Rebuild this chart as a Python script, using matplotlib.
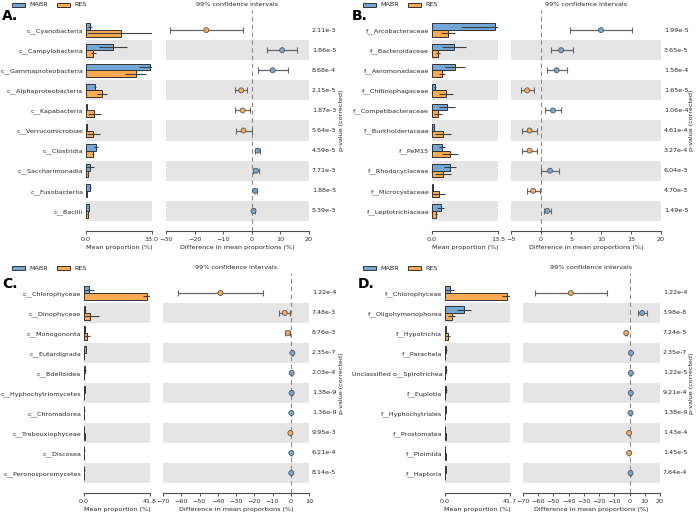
import matplotlib
matplotlib.use("Agg")
import matplotlib.pyplot as plt
from matplotlib.patches import Rectangle
import numpy as np

W, H = 696, 514
BLUE = "#72a7d8"
ORANGE = "#fcaa52"
BAND = "#e5e5e5"
FS = 4.6

# --- A. class level (bacteria) ---
names_a = ["c__Cyanobacteria", "c__Campylobacteria", "c__Gammaproteobacteria",
           "c__Alphaproteobacteria", "c__Kapabacteria", "c__Verrucomicrobiae",
           "c__Clostridia", "c__Saccharimonadia", "c__Fusobacteriia", "c__Bacilli"]
mabr_a = [2.0, 13.7, 32.0, 4.7, 0.3, 0.4, 5.2, 2.0, 2.0, 1.4]
mabr_sd_a = [1.0, 7.0, 5.7, 0.5, 0.1, 0.1, 1.0, 2.0, 0.5, 0.3]
res_a = [17.3, 3.6, 24.9, 8.1, 4.2, 3.7, 3.7, 0.8, 0.5, 0.8]
res_sd_a = [17.0, 1.2, 5.3, 2.4, 3.2, 3.4, 0.5, 0.3, 0.2, 0.3]
diff_a = [-15.9, 10.6, 7.3, -3.7, -3.2, -2.9, 2.0, 1.4, 1.2, 0.6]
lo_a = [-28.6, 5.2, 2.0, -5.7, -5.9, -5.6, 1.2, 0.5, 0.6, 0.2]
hi_a = [-3.1, 15.9, 12.8, -1.6, -0.7, -0.1, 2.9, 2.6, 1.7, 1.0]
p_a = ["2.11e-3", "1.86e-5", "8.68e-4", "2.15e-5", "1.87e-3",
       "5.64e-3", "4.59e-5", "7.71e-3", "1.88e-5", "5.39e-3"]

# --- B. family level (bacteria) ---
names_b = ["f__Arcobacteraceae", "f__Bacteroidaceae", "f__Aeromonadaceae",
           "f__Chitinophagaceae", "f__Competibacteraceae", "f__Burkholderiaceae",
           "f__PeM15", "f__Rhodocyclaceae", "f__Microcystaceae", "f__Leptotrichiaceae"]
mabr_b = [12.8, 4.5, 4.7, 0.55, 3.1, 0.4, 2.1, 3.75, 0.2, 1.8]
mabr_sd_b = [6.8, 2.4, 2.1, 0.2, 1.6, 0.1, 0.6, 1.2, 0.05, 0.75]
res_b = [3.3, 1.2, 2.1, 2.9, 1.2, 2.2, 3.7, 2.25, 1.35, 0.75]
res_sd_b = [1.4, 0.35, 0.6, 1.4, 0.8, 1.6, 1.6, 1.6, 1.4, 0.2]
diff_b = [10.0, 3.35, 2.6, -2.3, 2.0, -1.9, -1.9, 1.5, -1.3, 1.05]
lo_b = [4.9, 1.6, 0.95, -3.4, 0.7, -3.2, -3.2, 0.0, -2.3, 0.55]
hi_b = [15.1, 5.25, 4.3, -1.15, 3.4, -0.6, -0.6, 3.0, -0.15, 1.6]
p_b = ["1.99e-5", "3.65e-5", "1.58e-4", "1.65e-5", "1.06e-4",
       "4.61e-4", "3.27e-4", "6.04e-3", "4.70e-3", "1.49e-5"]

# --- C. class level (eukaryotes) ---
names_c = ["c__Chlorophyceae", "c__Dinophyceae", "c__Monogononta", "c__Eutardigrada",
           "c__Bdelloidea", "c__Hyphochytriomycetes", "c__Chromadorea",
           "c__Trebouxiophyceae", "c__Discosea", "c__Peronosporomycetes"]
mabr_c = [3.2, 0.8, 0.5, 1.2, 0.6, 0.5, 0.3, 0.2, 0.3, 0.3]
mabr_sd_c = [3.0, 0.6, 0.3, 0.2, 0.4, 0.1, 0.1, 0.1, 0.1, 0.1]
res_c = [40.1, 4.0, 2.1, 0.05, 0.05, 0.02, 0.02, 0.4, 0.02, 0.02]
res_sd_c = [3.0, 5.3, 1.9, 0.02, 0.02, 0.01, 0.01, 0.2, 0.01, 0.01]
diff_c = [-38.5, -3.3, -1.6, 0.9, 0.5, 0.5, 0.3, -0.2, 0.3, 0.3]
lo_c = [-61.8, -6.6, -3.1, 0.6, 0.2, 0.4, 0.2, -0.4, 0.2, 0.2]
hi_c = [-15.0, -0.2, -0.4, 1.2, 0.8, 0.6, 0.4, 0.0, 0.4, 0.4]
p_c = ["1.22e-4", "7.48e-3", "8.76e-3", "2.35e-7", "2.03e-4",
       "1.38e-9", "1.36e-9", "9.95e-3", "6.21e-4", "8.14e-5"]

# --- D. family level (eukaryotes) ---
names_d = ["f__Chlorophyceae", "f__Oligohymenophorea", "f__Hypotrichia", "f__Parachela",
           "Unclassified o__Spirotrichea", "f__Euplotia", "f__Hyphochytriales",
           "f__Prostomatea", "f__Ploimida", "f__Haptoria"]
mabr_d = [3.0, 12.5, 0.5, 0.85, 0.7, 0.8, 0.5, 0.1, 0.1, 0.5]
mabr_sd_d = [3.0, 4.5, 0.2, 0.2, 0.4, 0.3, 0.1, 0.05, 0.05, 0.1]
res_d = [39.8, 4.2, 1.7, 0.02, 0.02, 0.02, 0.02, 0.5, 0.4, 0.02]
res_sd_d = [3.0, 2.5, 1.7, 0.01, 0.01, 0.01, 0.01, 0.2, 0.2, 0.01]
diff_d = [-38.6, 8.3, -2.2, 0.9, 0.9, 0.8, 0.6, -0.3, -0.3, 0.6]
lo_d = [-62.1, 5.5, -2.8, 0.7, 0.6, 0.6, 0.5, -0.5, -0.5, 0.4]
hi_d = [-14.7, 11.4, -1.6, 1.1, 1.2, 1.0, 0.7, -0.1, -0.1, 0.8]
p_d = ["1.22e-4", "3.98e-8", "7.24e-5", "2.35e-7", "1.22e-5",
       "9.21e-4", "1.38e-9", "1.43e-4", "1.45e-5", "7.64e-4"]


def fig_rect(x0, x1, y0, y1):
    return [x0 / W, 1 - y1 / H, (x1 - x0) / W, (y1 - y0) / H]


def style_axis(ax):
    for s in ["top", "right", "left"]:
        ax.spines[s].set_visible(False)
    ax.spines["bottom"].set_linewidth(0.8)
    ax.spines["bottom"].set_color("0.3")
    ax.tick_params(axis="x", labelsize=FS, length=2, width=0.6, pad=2, colors="0.2")
    ax.tick_params(axis="y", length=0)


def draw_panel(fig, letter, lay, names, mabr, mabr_sd, res, res_sd, diff, lo, hi, pvals,
               bar_max, dlim, dticks):
    n = len(names)
    y = np.arange(n)
    top, bot = lay["top"], lay["bot"]

    # bar axes
    axb = fig.add_axes(fig_rect(lay["bx0"], lay["bx1"], top, bot))
    for i in range(1, n, 2):
        axb.axhspan(i - 0.5, i + 0.5, color=BAND, zorder=0, lw=0)
    h = 0.33
    ekw = dict(ecolor="0.25", elinewidth=0.8, capsize=0)
    axb.barh(y - h / 2, mabr, height=h, color=BLUE, edgecolor="0.2", lw=0.7,
             xerr=mabr_sd, error_kw=ekw, zorder=2)
    axb.barh(y + h / 2, res, height=h, color=ORANGE, edgecolor="0.2", lw=0.7,
             xerr=res_sd, error_kw=ekw, zorder=2)
    axb.set_xlim(0, bar_max)
    axb.set_ylim(n, -1)
    axb.set_xticks([0, bar_max])
    axb.set_xticklabels(["0.0", f"{bar_max:.1f}"])
    axb.set_yticks(y)
    axb.set_yticklabels(names, fontsize=FS, color="0.15")
    axb.tick_params(axis="y", pad=2)
    axb.set_xlabel("Mean proportion (%)", fontsize=FS, labelpad=2.5, color="0.15")
    style_axis(axb)

    # difference axes
    axd = fig.add_axes(fig_rect(lay["dx0"], lay["dx1"], top, bot))
    for i in range(1, n, 2):
        axd.axhspan(i - 0.5, i + 0.5, color=BAND, zorder=0, lw=0)
    axd.axvline(0, color="0.55", ls=(0, (4, 3)), lw=0.8, zorder=1)
    d = np.array(diff)
    xerr = np.vstack([d - np.array(lo), np.array(hi) - d])
    axd.errorbar(d, y, xerr=xerr, fmt="none", ecolor="0.4", elinewidth=0.9,
                 capsize=2, capthick=0.8, zorder=2)
    cols = [BLUE if v > 0 else ORANGE for v in diff]
    axd.scatter(d, y, s=13, c=cols, edgecolors="0.35", linewidths=0.6, zorder=3)
    axd.set_xlim(*dlim)
    axd.set_ylim(n, -1)
    axd.set_xticks(dticks)
    axd.set_xticklabels([str(t).replace("-", "\u2212") for t in dticks])
    axd.set_yticks([])
    axd.set_xlabel("Difference in mean proportions (%)", fontsize=FS, labelpad=2.5,
                   color="0.15")
    axd.set_title("99% confidence intervals", fontsize=FS, color="0.15", pad=3)
    style_axis(axd)

    # p-values
    for i, p in enumerate(pvals):
        axd.text(1.02, i, p, transform=axd.get_yaxis_transform(), fontsize=FS,
                 va="center", ha="left", color="0.15")
    fig.text(lay["plx"] / W, 1 - (top + bot) / 2 / H, "p-value (corrected)",
             rotation=90, fontsize=FS, va="center", ha="center", color="0.15")

    # panel letter
    fig.text(lay["lx"] / W, 1 - lay["ly"] / H, letter, fontsize=10,
             fontweight="bold", va="center", ha="left")

    # legend
    ly = lay["legy"]
    for k, (lab, col) in enumerate([("MABR", BLUE), ("RES", ORANGE)]):
        x0 = lay["legx"] + k * 45
        fig.add_artist(Rectangle((x0 / W, 1 - (ly + 2) / H), 13 / W, 4 / H,
                                 transform=fig.transFigure, facecolor=col,
                                 edgecolor="0.2", lw=0.7))
        fig.text((x0 + 17) / W, 1 - ly / H, lab, fontsize=FS, va="center",
                 ha="left", color="0.15")


def main():
    fig = plt.figure(figsize=(W / 100, H / 100), dpi=100)

    lay_a = dict(top=10, bot=231, bx0=86, bx1=152, dx0=166, dx1=309,
                 plx=342, lx=2, ly=16, legx=12, legy=5)
    lay_b = dict(top=10, bot=231, bx0=432, bx1=498, dx0=511, dx1=661,
                 plx=692, lx=352, ly=16, legx=363, legy=5)
    lay_c = dict(top=273, bot=493, bx0=84, bx1=150, dx0=163, dx1=309,
                 plx=342, lx=2, ly=284, legx=12, legy=268)
    lay_d = dict(top=273, bot=493, bx0=445, bx1=510, dx0=523, dx1=660,
                 plx=692, lx=358, ly=284, legx=363, legy=268)

    draw_panel(fig, "A.", lay_a, names_a, mabr_a, mabr_sd_a, res_a, res_sd_a,
               diff_a, lo_a, hi_a, p_a, 33.0, (-30, 20), list(range(-30, 21, 10)))
    draw_panel(fig, "B.", lay_b, names_b, mabr_b, mabr_sd_b, res_b, res_sd_b,
               diff_b, lo_b, hi_b, p_b, 13.5, (-5, 20), list(range(-5, 21, 5)))
    draw_panel(fig, "C.", lay_c, names_c, mabr_c, mabr_sd_c, res_c, res_sd_c,
               diff_c, lo_c, hi_c, p_c, 41.8, (-70, 10), list(range(-70, 11, 10)))
    draw_panel(fig, "D.", lay_d, names_d, mabr_d, mabr_sd_d, res_d, res_sd_d,
               diff_d, lo_d, hi_d, p_d, 41.7, (-70, 20), list(range(-70, 21, 10)))

    fig.savefig("out.png", dpi=100)
    plt.close(fig)


if __name__ == "__main__":
    main()
